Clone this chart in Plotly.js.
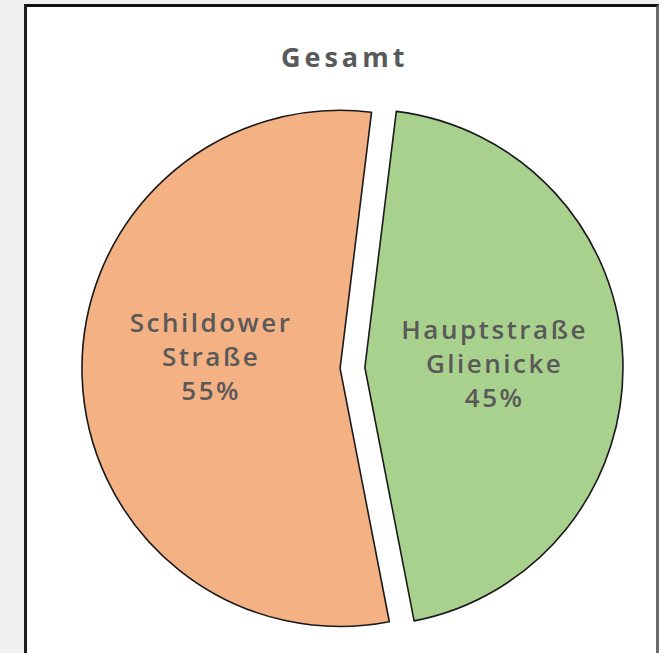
<!DOCTYPE html>
<html>
<head>
<meta charset="utf-8">
<script src="https://cdn.plot.ly/plotly-3.0.1.min.js"></script>
<style>
  html, body { margin: 0; padding: 0; background: #f0f0f0; width: 659px; height: 653px; overflow: hidden; }
  #frame { position: absolute; left: 24px; top: 4px; width: 629px; height: 646px;
           border-left: 3px solid #1e1e1e; border-top: 3px solid #111; border-right: 3px solid #6a6a6a;
           background: #fff; }
  #chart { width: 629px; height: 646px; }
  .slicetext { letter-spacing: 2.5px; }
  .gtitle { letter-spacing: 4px; }
</style>
</head>
<body>
<div id="frame"><div id="chart"></div></div>
<script>
const chartTitle = 'Gesamt';
const sliceLabels = ['Hauptstraße<br>Glienicke', 'Schildower<br>Straße'];
const sliceValues = [45, 55];
const sliceColors = ['#A9D18E', '#F4B183'];
const sliceTemplates = ['%{label}<br>%{percent:.0%}', '%{label}<br>%{percent:.0%}<br>\u00a0'];

const trace = {
  type: 'pie',
  labels: sliceLabels,
  values: sliceValues,
  sort: false,
  direction: 'clockwise',
  rotation: 7,
  pull: [0.048, 0.048],
  marker: { colors: sliceColors, line: { color: '#1a1a1a', width: 1.6 } },
  texttemplate: sliceTemplates,
  textposition: 'inside',
  insidetextorientation: 'horizontal',
  insidetextfont: { family: 'Open Sans, sans-serif', size: 26, color: '#595959', weight: 600 },
  hoverinfo: 'none',
  showlegend: false,
  domain: { x: [0.0874, 0.9475], y: [0.0225, 0.860] }
};

const layout = {
  width: 629,
  height: 646,
  margin: { l: 0, r: 0, t: 0, b: 0 },
  paper_bgcolor: '#ffffff',
  title: {
    text: '<b>' + chartTitle + '</b>',
    font: { family: 'Open Sans, sans-serif', size: 27, color: '#595959' },
    x: 0.505, xref: 'container', xanchor: 'center',
    y: 0.936, yref: 'container', yanchor: 'top'
  }
};

Plotly.newPlot('chart', [trace], layout, { displayModeBar: false, staticPlot: true });
</script>
</body>
</html>
